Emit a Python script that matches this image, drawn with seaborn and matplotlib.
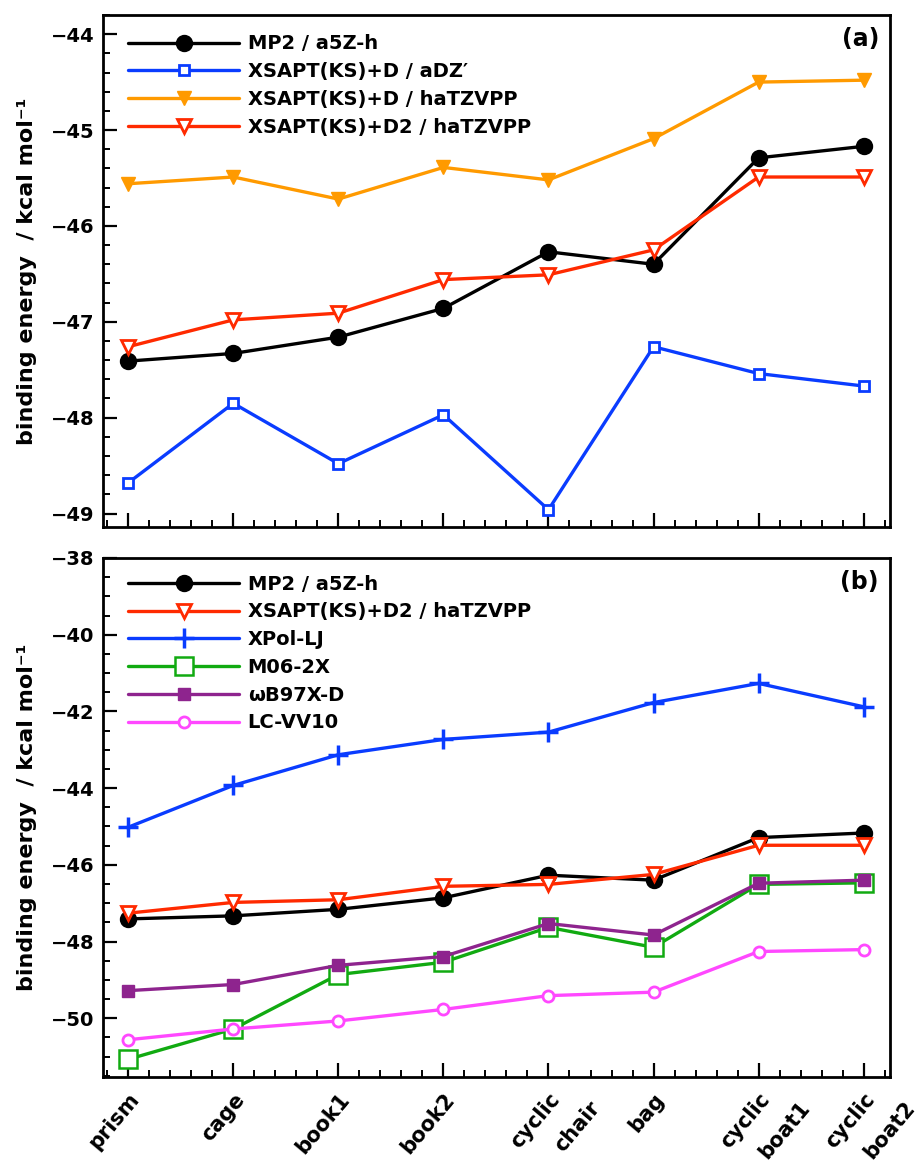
import numpy as np
import pandas as pd
import matplotlib
matplotlib.use("Agg")
import matplotlib.pyplot as plt
import matplotlib.transforms as mtransforms
import seaborn as sns
from matplotlib.ticker import MultipleLocator, FixedLocator

# ---------------- data ----------------
categories = ["prism", "cage", "book1", "book2", "cyclic\nchair", "bag",
              "cyclic\nboat1", "cyclic\nboat2"]

mp2_a5zh = [-47.41, -47.33, -47.16, -46.86, -46.27, -46.40, -45.29, -45.17]
xsapt_d_adz = [-48.68, -47.85, -48.48, -47.97, -48.96, -47.26, -47.54, -47.67]
xsapt_d_hatzvpp = [-45.56, -45.49, -45.72, -45.39, -45.52, -45.09, -44.50, -44.48]
xsapt_d2_hatzvpp = [-47.26, -46.98, -46.91, -46.56, -46.51, -46.25, -45.49, -45.49]
xpol_lj = [-45.02, -43.93, -43.13, -42.73, -42.54, -41.77, -41.27, -41.88]
m06_2x = [-51.07, -50.28, -48.86, -48.54, -47.63, -48.15, -46.51, -46.47]
wb97x_d = [-49.28, -49.12, -48.62, -48.39, -47.53, -47.83, -46.48, -46.40]
lc_vv10 = [-50.56, -50.28, -50.07, -49.77, -49.41, -49.32, -48.26, -48.21]

labels_a = ["MP2 / a5Z-h", "XSAPT(KS)+D / aDZ\u2032", "XSAPT(KS)+D / haTZVPP",
            "XSAPT(KS)+D2 / haTZVPP"]
labels_b = ["MP2 / a5Z-h", "XSAPT(KS)+D2 / haTZVPP", "XPol-LJ", "M06-2X",
            "\u03c9B97X-D", "LC-VV10"]

# ---------------- style ----------------
sns.set_theme(style="ticks")
plt.rcParams["font.family"] = ["DejaVu Sans"]
plt.rcParams["font.weight"] = "bold"
plt.rcParams["axes.labelweight"] = "bold"
plt.rcParams["axes.linewidth"] = 2.0
plt.rcParams["axes.edgecolor"] = "black"
for k in ("text.color", "axes.labelcolor", "xtick.color", "ytick.color"):
    plt.rcParams[k] = "black"

positions = list(range(len(categories)))

def make_df(series_dict):
    rows = []
    for name, vals in series_dict.items():
        for p, v in zip(positions, vals):
            rows.append({"series": name, "pos": p, "energy": v})
    return pd.DataFrame(rows)

df_a = make_df(dict(zip(labels_a, [mp2_a5zh, xsapt_d_adz, xsapt_d_hatzvpp, xsapt_d2_hatzvpp])))
df_b = make_df(dict(zip(labels_b, [mp2_a5zh, xsapt_d2_hatzvpp, xpol_lj, m06_2x, wb97x_d, lc_vv10])))

styles = {
    "MP2 / a5Z-h": dict(color="black", marker="o", ms=11, mfc="black", mec="black", mew=1.5),
    "XSAPT(KS)+D / aDZ\u2032": dict(color="#0a3cff", marker="s", ms=7.5, mfc="white", mec="#0a3cff", mew=2),
    "XSAPT(KS)+D / haTZVPP": dict(color="#ff9a00", marker="v", ms=10.5, mfc="#ff9a00", mec="#ff9a00", mew=1),
    "XSAPT(KS)+D2 / haTZVPP": dict(color="#ff2a00", marker="v", ms=9.5, mfc="white", mec="#ff2a00", mew=2),
    "XPol-LJ": dict(color="#0a3cff", marker="+", ms=14, mfc="#0a3cff", mec="#0a3cff", mew=2.5),
    "M06-2X": dict(color="#11aa11", marker="s", ms=12.5, mfc="white", mec="#11aa11", mew=1.8),
    "\u03c9B97X-D": dict(color="#8e248e", marker="s", ms=8.5, mfc="#8e248e", mec="#8e248e", mew=1),
    "LC-VV10": dict(color="#ff48ff", marker="o", ms=8, mfc="white", mec="#ff48ff", mew=2),
}

fig = plt.figure(figsize=(9.17, 11.61), dpi=100)
ax_a = fig.add_axes([0.1123, 0.5461, 0.8582, 0.4410])
ax_b = fig.add_axes([0.1123, 0.0724, 0.8582, 0.4470])

def draw(ax, df, labels):
    for name in labels:
        sub = df[df["series"] == name]
        st = styles[name]
        sns.lineplot(data=sub, x="pos", y="energy", ax=ax, sort=False,
                     lw=2.4, label=name, **st)

draw(ax_a, df_a, labels_a)
draw(ax_b, df_b, labels_b)

for ax, legtop in ((ax_a, 0.962), (ax_b, 0.968)):
    ax.set_xlim(-0.24, 7.25)
    ax.xaxis.set_major_locator(FixedLocator(positions))
    ax.xaxis.set_minor_locator(MultipleLocator(0.2))
    ax.tick_params(axis="both", which="major", direction="in", length=10, width=1.6,
                   labelsize=14, top=False, right=False, pad=6)
    ax.tick_params(axis="both", which="minor", direction="in", length=5, width=1.4,
                   top=False, right=False)
    ax.set_xlabel("")
    ax.set_xticklabels([])
    ax.set_ylabel("binding energy  / kcal mol\u207b\u00b9", fontsize=16, fontweight="bold")
    ax.yaxis.set_label_coords(-0.084, 0.5)
    for s in ax.spines.values():
        s.set_linewidth(2.0)
        s.set_visible(True)
    ax.legend(loc="upper left", bbox_to_anchor=(0.032, legtop), borderaxespad=0,
              borderpad=0, frameon=False, handlelength=5.7, handletextpad=0.45,
              labelspacing=0.45, numpoints=1, prop={"size": 14, "weight": "bold"})

ax_a.set_ylim(-49.14, -43.80)
ax_a.yaxis.set_major_locator(MultipleLocator(1))
ax_a.yaxis.set_minor_locator(MultipleLocator(0.2))

ax_b.set_ylim(-51.53, -38.0)
ax_b.yaxis.set_major_locator(MultipleLocator(2))
ax_b.yaxis.set_minor_locator(MultipleLocator(0.5))

# category labels below panel (b): rotated, second line set to the right
base = ax_b.get_xaxis_transform()
for pos, cat in zip(positions, categories):
    lines = cat.split("\n")
    for j, line in enumerate(lines):
        off = mtransforms.ScaledTranslation((0.0 + 40 * j) / 100.0, (-12.5 - 8 * j) / 100.0,
                                            fig.dpi_scale_trans)
        ax_b.text(pos, 0, line, transform=base + off, rotation=50, rotation_mode="anchor",
                  ha="right", va="top", fontsize=15, fontweight="bold", color="black")

ax_a.text(0.986, 0.953, "(a)", transform=ax_a.transAxes, ha="right", va="center",
          fontsize=17, fontweight="bold")
ax_b.text(0.986, 0.953, "(b)", transform=ax_b.transAxes, ha="right", va="center",
          fontsize=17, fontweight="bold")

fig.savefig("out.png", dpi=100, facecolor="white")
